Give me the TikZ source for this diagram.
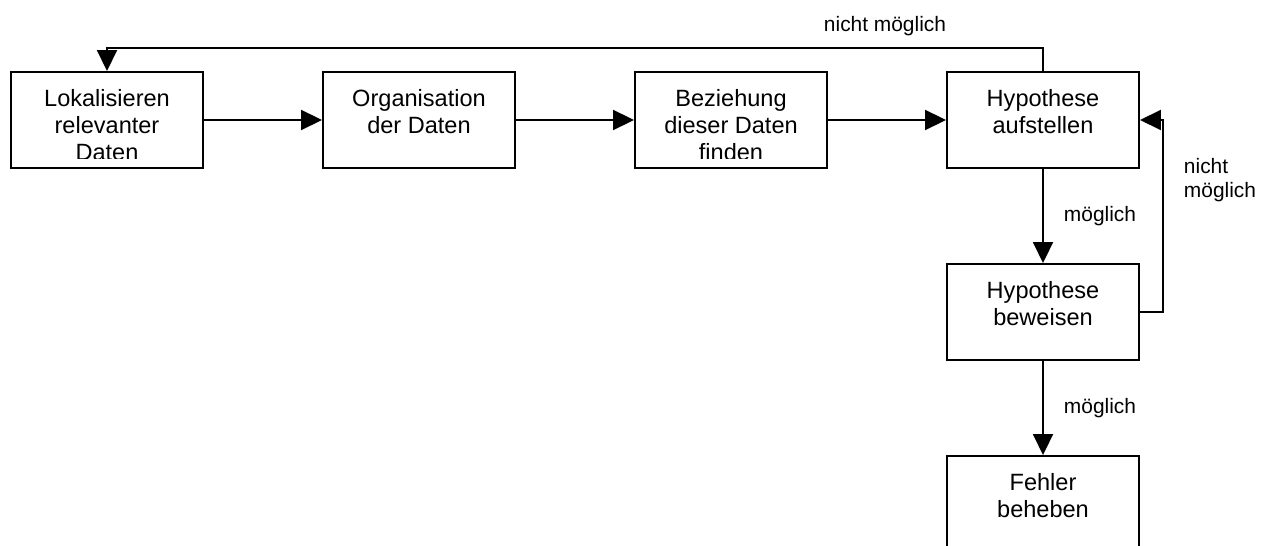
\documentclass[tikz,border=0pt]{standalone}
\usepackage{fontspec}
\setmainfont{Liberation Sans}
\usetikzlibrary{arrows.meta}
\tikzset{
	kasten/.style={draw,line width=1.1pt,minimum width=3.84cm,minimum height=1.92cm,inner sep=0pt},
	ktext/.style={anchor=north,align=center,inner sep=0pt,font=\fontsize{13.4}{15.6}\selectfont},
	marke/.style={anchor=base west,align=left,inner sep=0pt,font=\fontsize{11.9}{13.7}\selectfont}
}
\begin{document}
\begin{tikzpicture}[>={Triangle[length=0.42cm,width=0.4cm]},line width=1.1pt]
			\clip (0,0) rectangle (25.38,-10.92);
			%Kasten
			\node[kasten] (lok) at (2.14,-2.4) {};
			\node[kasten] (org) at (8.38,-2.4) {};
			\node[kasten] (bez) at (14.62,-2.4) {};
			\node[kasten] (auf) at (20.86,-2.4) {};
			\node[kasten] (bew) at (20.86,-6.24) {};
			\node[kasten] (feh) at (20.86,-10.08) {};
			%Texte
			\begin{scope}
				\clip (lok.north west) rectangle ([yshift=0.2cm]lok.south east);
				\node[ktext] (tlok) at ([yshift=-0.34cm]lok.north) {Lokalisieren\\relevanter\\Daten};
			\end{scope}
			\node[ktext] (torg) at ([yshift=-0.34cm]org.north) {Organisation\\der Daten};
			\begin{scope}
				\clip (bez.north west) rectangle ([yshift=0.2cm]bez.south east);
				\node[ktext] (tbez) at ([yshift=-0.34cm]bez.north) {Beziehung\\dieser Daten\\finden};
			\end{scope}
			\node[ktext] (tauf) at ([yshift=-0.34cm]auf.north) {Hypothese\\aufstellen};
			\node[ktext] (tbew) at ([yshift=-0.34cm]bew.north) {Hypothese\\beweisen};
			\node[ktext] (tfeh) at ([yshift=-0.34cm]feh.north) {Fehler\\beheben};
			%Pfeile
			\path (0,-0.96) coordinate (oben)
			(23.26,0) coordinate (rechts);
			\draw[->] (lok.east)--(org.west);
			\draw[->] (org.east)--(bez.west);
			\draw[->] (bez.east)--(auf.west);
			\draw[->] (auf.north)--(auf.north |- oben)-|(lok.north);
			\draw[->] (auf.south)--(bew.north);
			\draw[->] (bew.east)--(bew.east -| rechts)|-(auf.east);
			\draw[->] (bew.south)--(feh.north);
			%Beschriftungen
			\node[marke] (m1) at (16.46,-0.64) {nicht möglich};
			\node[marke] (m2) at (21.26,-4.44) {möglich};
			\node[marke] (m3) at (21.26,-8.26) {möglich};
			\node[marke] (m4) at (23.66,-3.96) {nicht\\möglich};
		\end{tikzpicture}
\end{document}
